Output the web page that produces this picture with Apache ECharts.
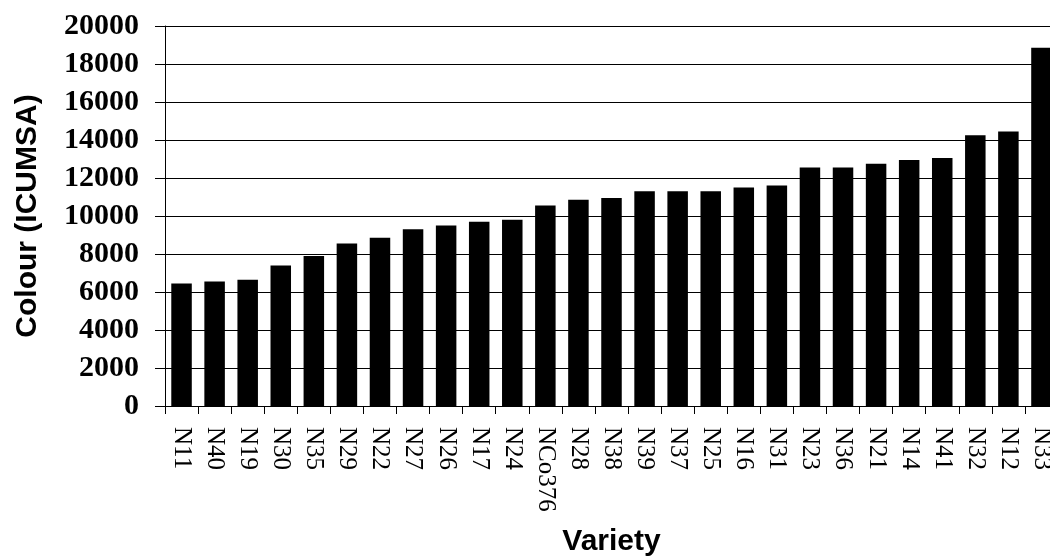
<!DOCTYPE html>
<html>
<head>
<meta charset="utf-8">
<script src="https://cdn.jsdelivr.net/npm/echarts@6/dist/echarts.min.js"></script>
<style>html,body{margin:0;padding:0;background:#fff;overflow:hidden;}#c{width:1050px;height:556px;}</style>
</head>
<body>
<div id="c"></div>
<script>
const categories = ['N11','N40','N19','N30','N35','N29','N22','N27','N26','N17','N24','NCo376','N28','N38','N39','N37','N25','N16','N31','N23','N36','N21','N14','N41','N32','N12','N33'];
const colourValues = [6450,6550,6650,7400,7900,8550,8850,9300,9500,9700,9800,10550,10850,10950,11300,11300,11300,11500,11600,12550,12550,12750,12950,13050,14250,14450,18850];
const yMin = 0, yMax = 20000, yStep = 2000;
const xTitle = 'Variety';
const yTitle = 'Colour (ICUMSA)';

const chart = echarts.init(document.getElementById('c'), null, {renderer:'canvas'});
chart.setOption({
  animation: false,
  backgroundColor: '#fff',
  grid: {left: 165, top: 26, right: -8, bottom: 150, containLabel: false, outerBoundsMode: 'none'},
  xAxis: {
    type: 'category',
    data: categories,
    boundaryGap: true,
    axisLine: {lineStyle: {color: '#000', width: 1}},
    axisTick: {show: true, length: 8, lineStyle: {color: '#000'}, alignWithLabel: false},
    axisLabel: {rotate: -90, interval: 0, margin: 21, color: '#000', fontFamily: 'Liberation Serif', fontSize: 25},
    name: xTitle,
    nameLocation: 'middle',
    nameGap: 121,
    nameTextStyle: {fontFamily: 'Liberation Sans', fontWeight: 'bold', fontSize: 30, color: '#000'}
  },
  yAxis: {
    type: 'value',
    min: yMin, max: yMax, interval: yStep,
    axisLine: {show: true, lineStyle: {color: '#000', width: 1}},
    axisTick: {show: true, length: 10, lineStyle: {color: '#000'}},
    splitLine: {show: true, lineStyle: {color: '#000', width: 1}},
    axisLabel: {margin: 26, color: '#000', fontFamily: 'Liberation Serif', fontWeight: 'bold', fontSize: 30, formatter: function (v) { return String(v); }},
    name: yTitle,
    nameLocation: 'middle',
    nameRotate: 90,
    nameGap: 122,
    nameTextStyle: {fontFamily: 'Liberation Sans', fontWeight: 'bold', fontSize: 30, color: '#000'}
  },
  series: [{
    type: 'bar',
    data: colourValues,
    barWidth: '62%',
    itemStyle: {color: '#000'}
  }]
});
</script>
</body>
</html>
